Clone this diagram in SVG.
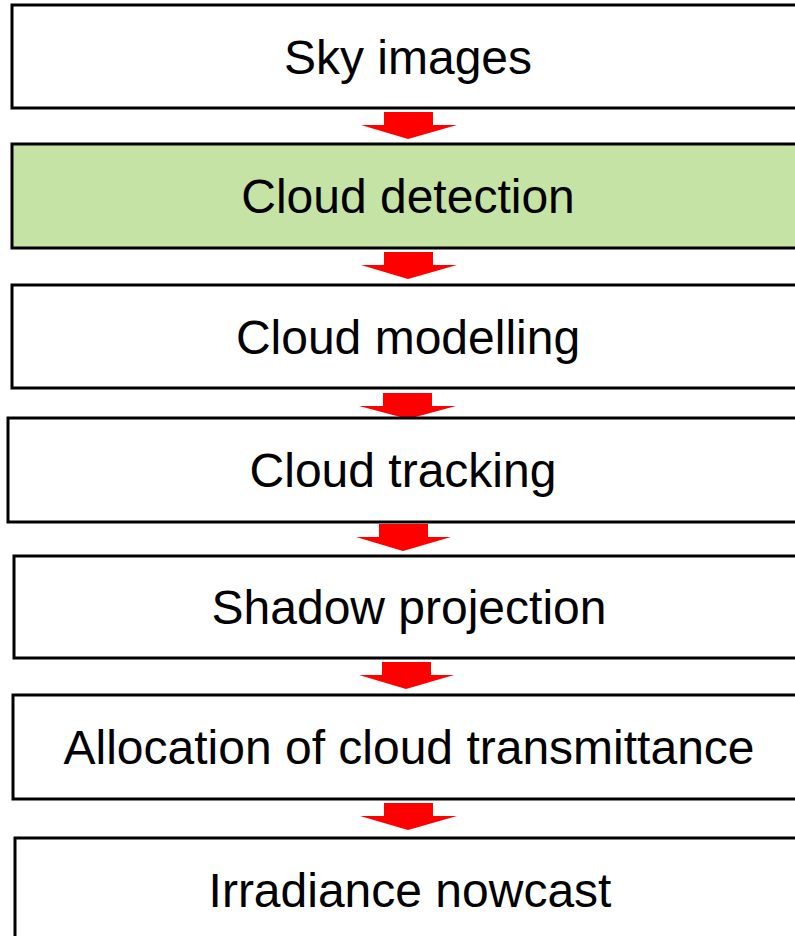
<svg xmlns="http://www.w3.org/2000/svg" width="795" height="936" viewBox="0 0 795 936">
<style>
.box{fill:#ffffff;stroke:#000000;stroke-width:3}
.green{fill:#C6E3A6}
.lbl{font-family:"Liberation Sans",Arial,sans-serif;font-size:48px;fill:#000000;text-anchor:middle}
.arr{fill:#FF0000}
</style>
<rect width="795" height="936" fill="#ffffff"/>
<g id="connectors">
<polygon class="arr" points="384,112 433,112 433,125 457,125 408,139 361,125 384,125"/>
<polygon class="arr" points="384,252 433,252 433,265 457,265 408,279 361,265 384,265"/>
<polygon class="arr" points="383,393 432,393 432,406 456,406 408,419 359,406 383,406"/>
<polygon class="arr" points="379,524 428,524 428,537 451,537 403,551 356,537 379,537"/>
<polygon class="arr" points="382,662 431,662 431,675 454,675 406,689 359,675 382,675"/>
<polygon class="arr" points="384,803 433,803 433,816 457,816 408,830 360,816 384,816"/>
</g>
<g id="sky-images">
<rect class="box" x="12" y="5" width="800" height="103"/>
<text class="lbl" x="408" y="74">Sky images</text>
</g>
<g id="cloud-detection">
<rect class="box green" x="12" y="144" width="800" height="104"/>
<text class="lbl" x="408" y="213">Cloud detection</text>
</g>
<g id="cloud-modelling">
<rect class="box" x="12" y="285" width="800" height="103"/>
<text class="lbl" x="408" y="354">Cloud modelling</text>
</g>
<g id="cloud-tracking">
<rect class="box" x="8" y="418" width="800" height="104"/>
<text class="lbl" x="403" y="487">Cloud tracking</text>
</g>
<g id="shadow-projection">
<rect class="box" x="14" y="556" width="800" height="102"/>
<text class="lbl" x="409" y="624">Shadow projection</text>
</g>
<g id="allocation">
<rect class="box" x="13" y="695" width="800" height="104"/>
<text class="lbl" x="409" y="764">Allocation of cloud transmittance</text>
</g>
<g id="irradiance-nowcast">
<rect class="box" x="15" y="838" width="800" height="110"/>
<text class="lbl" x="410" y="907">Irradiance nowcast</text>
</g>
</svg>
